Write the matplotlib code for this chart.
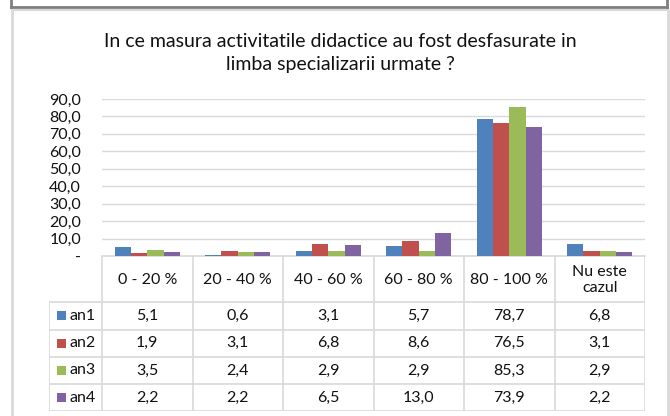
import matplotlib
matplotlib.use("Agg")
import matplotlib.pyplot as plt
from matplotlib.lines import Line2D
from matplotlib.patches import Rectangle

plt.rcParams['font.family'] = ['Lato', 'DejaVu Sans']

# data
categories = ["0 - 20 %", "20 - 40 %", "40 - 60 %", "60 - 80 %", "80 - 100 %", "Nu este\ncazul"]
series_names = ["an1", "an2", "an3", "an4"]
an1 = [5.1, 0.6, 3.1, 5.7, 78.7, 6.8]
an2 = [1.9, 3.1, 6.8, 8.6, 76.5, 3.1]
an3 = [3.5, 2.4, 2.9, 2.9, 85.3, 2.9]
an4 = [2.2, 2.2, 6.5, 13.0, 73.9, 2.2]
y_ticks = [0, 10, 20, 30, 40, 50, 60, 70, 80, 90]
title = "In ce masura activitatile didactice au fost desfasurate in\nlimba specializarii urmate ?"

colors = ["#4F81BD", "#C0504D", "#9BBB59", "#8064A2"]
grid_c = "#D9D9D9"
text_c = "#111111"
fs = 11.5

W, H = 670, 416


def fx(x):
    return x / W


def fy(y):
    return 1 - y / H


def fmt(v):
    return f"{v:.1f}".replace(".", ",")


fig = plt.figure(figsize=(W / 100, H / 100), dpi=100)
fig.patch.set_facecolor("white")

# frame lines (previous box bottom + this chart's border)
fig.add_artist(Line2D([fx(11), fx(11)], [fy(0), fy(7)], color="#7F7F7F", lw=2))
fig.add_artist(Line2D([fx(11), fx(667)], [fy(7), fy(7)], color="#7F7F7F", lw=2))
fig.add_artist(Line2D([fx(667), fx(667)], [fy(0), fy(7)], color="#7F7F7F", lw=2))
fig.add_artist(Line2D([fx(12), fx(668)], [fy(9.5), fy(9.5)], color=grid_c, lw=1.5))
fig.add_artist(Line2D([fx(12), fx(12)], [fy(9.5), fy(416)], color=grid_c, lw=2))
fig.add_artist(Line2D([fx(667.5), fx(667.5)], [fy(9.5), fy(416)], color=grid_c, lw=2))

fig.text(fx(340), fy(53), title, ha="center", va="center", fontsize=14,
         color=text_c, linespacing=1.45)

# bar plot
left, right, bottom, top = 102, 645, 256, 99
ax = fig.add_axes([fx(left), fy(bottom), fx(right - left), (bottom - top) / H])
n = len(categories)
width = 0.18
all_series = [an1, an2, an3, an4]
for i, vals in enumerate(all_series):
    xs = [c + (i - 1.5) * width for c in range(n)]
    ax.bar(xs, vals, width=width, color=colors[i], zorder=3)
ax.set_xlim(-0.5, n - 0.5)
ax.set_ylim(0, 90)
ax.set_yticks(y_ticks)
ax.set_yticklabels(["-" if t == 0 else fmt(t) for t in y_ticks], fontsize=fs,
                   color=text_c)
ax.set_xticks([])
ax.tick_params(axis="y", length=0, pad=15)
ax.grid(axis="y", color=grid_c, lw=1, zorder=0)
for s in ["top", "right", "left"]:
    ax.spines[s].set_visible(False)
ax.spines["bottom"].set_color(grid_c)
ax.spines["bottom"].set_linewidth(1.2)

# data table below the plot
t_left, t_bottom = 49, 411
lab_w = (left - t_left) / ((right - left) / n)
tab = fig.add_axes([fx(t_left), fy(t_bottom), fx(right - t_left), (t_bottom - bottom) / H])
tab.set_xlim(-0.5 - lab_w, n - 0.5)
tab.set_ylim(t_bottom, bottom)
tab.axis("off")
row_edges = [256, 302, 329.5, 357, 384, 411]
lc = dict(color=grid_c, lw=1.2)
for c in range(n + 1):
    tab.plot([c - 0.5, c - 0.5], [row_edges[0], row_edges[-1]], **lc)
tab.plot([-0.5 - lab_w, -0.5 - lab_w], [row_edges[1], row_edges[-1]], **lc)
for r in row_edges[1:]:
    tab.plot([-0.5 - lab_w, n - 0.5], [r, r], **lc)

for c, cat in enumerate(categories):
    tab.text(c, (row_edges[0] + row_edges[1]) / 2 + 1, cat, ha="center", va="center",
             fontsize=fs, color=text_c, linespacing=1.15)

for i, (name, vals) in enumerate(zip(series_names, all_series)):
    yc = (row_edges[i + 1] + row_edges[i + 2]) / 2
    kx = -0.5 - lab_w + 8 / 90.5
    tab.add_patch(Rectangle((kx, yc - 4.5), 9 / 90.5, 9, color=colors[i], lw=0))
    tab.text(kx + 12 / 90.5, yc, name, ha="left", va="center", fontsize=fs,
             color=text_c)
    for c, v in enumerate(vals):
        tab.text(c, yc, fmt(v), ha="center", va="center", fontsize=fs, color=text_c)

fig.savefig("out.png", dpi=100)
